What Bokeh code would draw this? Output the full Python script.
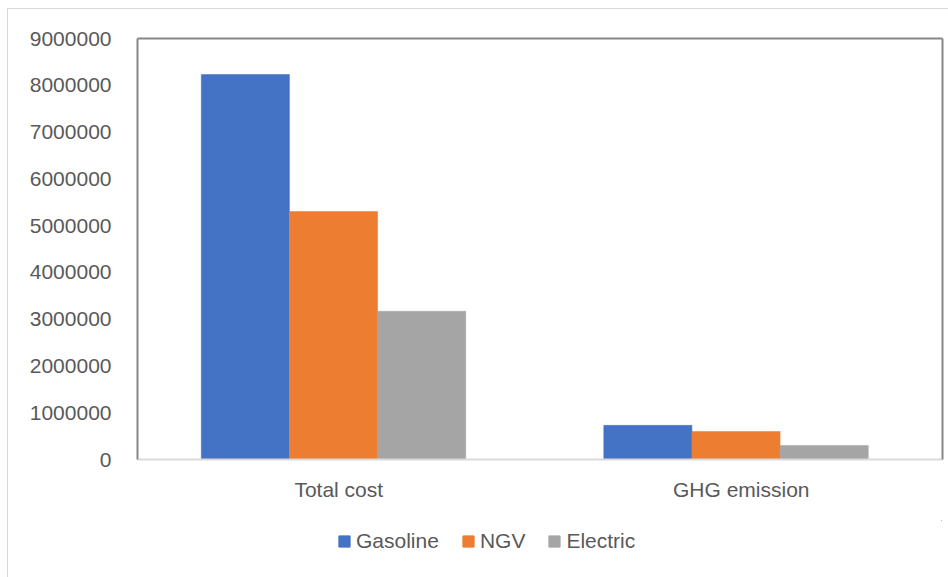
from bokeh.plotting import figure
from bokeh.models import (ColumnDataSource, FactorRange, Range1d, FixedTicker, BasicTickFormatter,
                          LinearAxis, Legend, LegendItem)
from bokeh.layouts import column
from bokeh.transform import dodge
from bokeh.embed import file_html
from bokeh.resources import INLINE

categories = ["Total cost", "GHG emission"]
gasoline = [8230000, 730000]
ngv = [5300000, 600000]
electric = [3170000, 300000]
series_names = ["Gasoline", "NGV", "Electric"]
colors = ["#4472C4", "#ED7D31", "#A5A5A5"]
y_ticks = [0, 1000000, 2000000, 3000000, 4000000, 5000000, 6000000, 7000000, 8000000, 9000000]

src = ColumnDataSource(dict(cat=categories, Gasoline=gasoline, NGV=ngv, Electric=electric))

FONT = "Liberation Sans"
TXT = "#595959"
BORDER = "1px solid #d9d9d9"

p = figure(frame_width=804, frame_height=420, x_range=FactorRange(*categories), y_range=Range1d(0, 9000000),
           output_backend="svg", toolbar_location=None,
           min_border_left=129, min_border_right=8, min_border_top=29, min_border_bottom=62)
p.margin = (8, 0, 0, 7)
p.styles = {"border-left": BORDER, "border-top": BORDER}
p.outline_line_color = None
p.grid.visible = False
p.background_fill_color = "white"
p.border_fill_color = "white"

bw = 0.219
for name, col, off in zip(series_names, colors, [-0.232, -0.013, 0.206]):
    p.vbar(x=dodge("cat", off, range=p.x_range), top=name, width=bw, source=src,
           fill_color=col, line_color=col, line_width=0.5)

# y axis
ya = p.yaxis[0]
ya.ticker = FixedTicker(ticks=y_ticks)
ya.formatter = BasicTickFormatter(use_scientific=False)
ya.axis_line_color = "#868686"
ya.axis_line_width = 2
ya.major_tick_line_color = None
ya.minor_tick_line_color = None
ya.major_label_standoff = 20
ya.major_label_text_font = FONT
ya.major_label_text_font_size = "21px"
ya.major_label_text_color = TXT

# x axis
xa = p.xaxis[0]
xa.axis_line_color = "#d9d9d9"
xa.axis_line_width = 2
xa.major_tick_line_color = None
xa.minor_tick_line_color = None
xa.major_label_standoff = 12
xa.major_label_text_font = FONT
xa.major_label_text_font_size = "21px"
xa.major_label_text_color = TXT

for loc in ["above", "right"]:
    ax = LinearAxis(ticker=FixedTicker(ticks=[]), axis_line_color="#868686", axis_line_width=2,
                    major_tick_line_color=None, minor_tick_line_color=None,
                    major_label_standoff=0, major_tick_out=0, major_label_text_font_size="0px")
    p.add_layout(ax, loc)

# legend strip below the chart (legend swatches use off-screen placeholder renderers)
p2 = figure(width=941, height=57, x_range=Range1d(0, 1), y_range=Range1d(0, 1),
            x_axis_type=None, y_axis_type=None, output_backend="svg", toolbar_location=None,
            min_border=0)
p2.margin = (0, 0, 0, 7)
p2.styles = {"border-left": BORDER}
p2.outline_line_color = None
p2.grid.visible = False
items = []
for name, col in zip(series_names, colors):
    r = p2.vbar(x=[5], top=[5], bottom=[4], width=0.1, fill_color=col, line_color=col)
    items.append(LegendItem(label=name, renderers=[r]))
legend = Legend(items=items, orientation="horizontal", location=(200, 24),
                glyph_width=14, glyph_height=14, label_standoff=5, spacing=22,
                label_text_font=FONT, label_text_font_size="21px", label_text_color=TXT,
                border_line_color=None, background_fill_alpha=0, margin=0, padding=0)
p2.add_layout(legend, "center")

layout = column(p, p2, spacing=0)
open("out.html", "w").write(file_html(layout, INLINE))
